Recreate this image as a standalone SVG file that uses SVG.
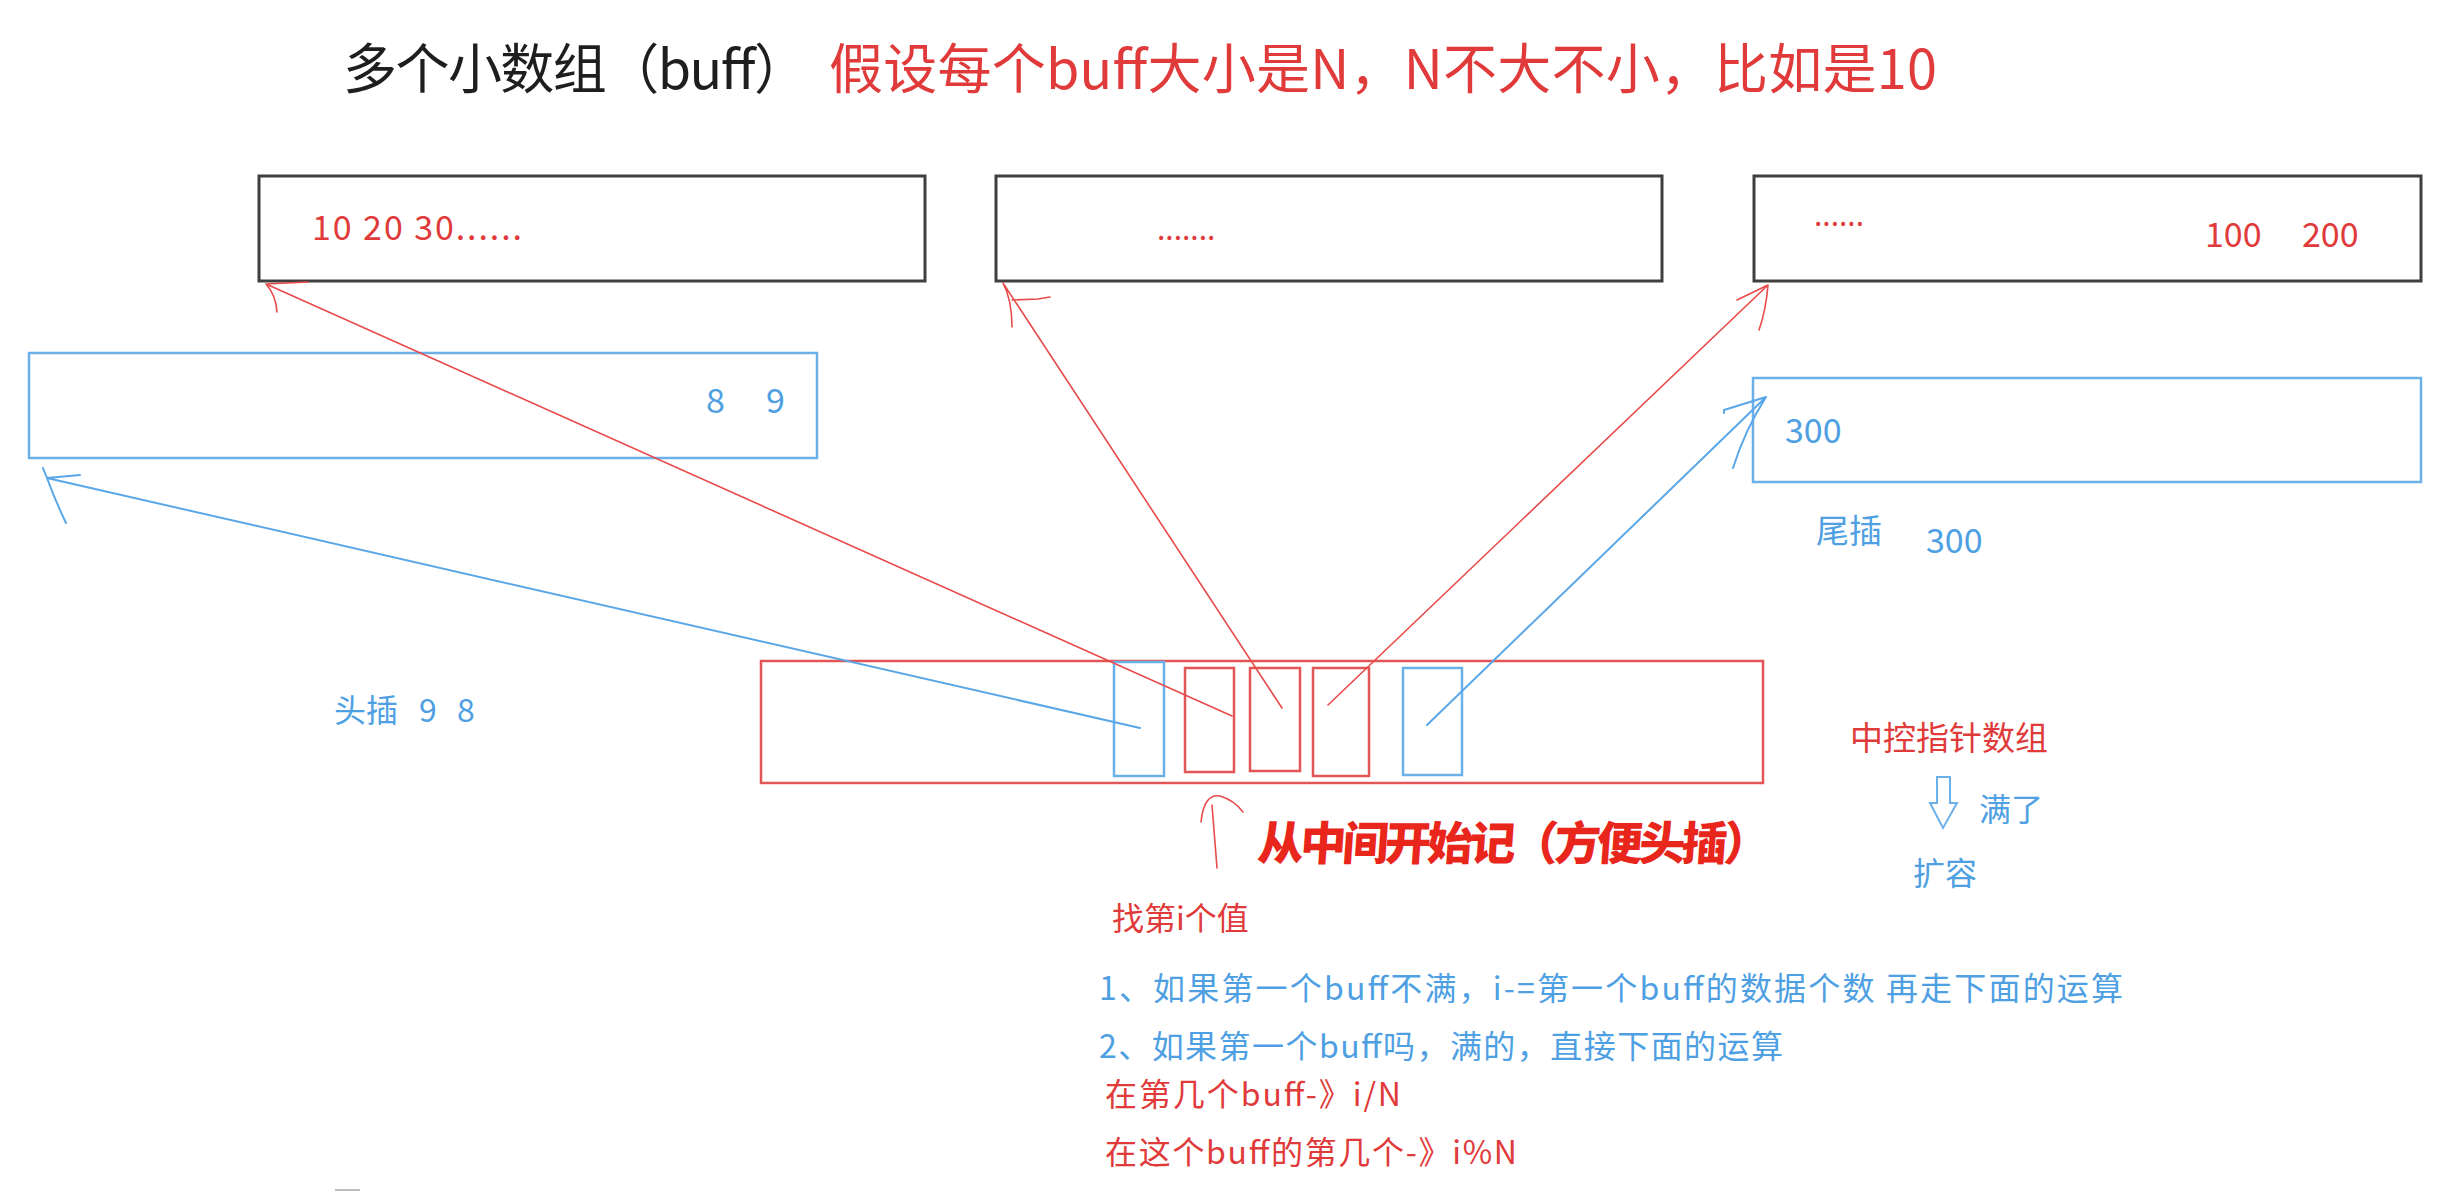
<svg xmlns="http://www.w3.org/2000/svg" width="2440" height="1192" viewBox="0 0 2440 1192">
<style>
text{font-family:"Noto Sans CJK SC","Microsoft YaHei","Noto Sans",sans-serif}
.red{fill:#e03a3a}
.blue{fill:#4f9fe3}
.bk{fill:#1e1e1e}
.box{fill:none;stroke:#3f3f3f;stroke-width:3}
.bbox{fill:none;stroke:#6cb0ea;stroke-width:2.5}
.rbox{fill:none;stroke:#e25555;stroke-width:2.5}
.rl{fill:none;stroke:#e84a4a;stroke-width:1.6;stroke-linecap:round;stroke-linejoin:round}
.bl{fill:none;stroke:#5aa7e8;stroke-width:2;stroke-linecap:round;stroke-linejoin:round}
</style>
<rect width="2440" height="1192" fill="#ffffff"/>

<g id="title">
<text x="343" y="89" font-size="54" class="bk" textLength="465">多个小数组（buff）</text>
<text x="829" y="89" font-size="54" class="red" textLength="1108">假设每个buff大小是N，N不大不小，比如是10</text>
</g>

<g id="buffA">
<rect class="box" x="259" y="176" width="666" height="105"/>
<text x="312" y="240" font-size="34" class="red" textLength="210">10  20  30......</text>
</g>
<g id="buffB">
<rect class="box" x="996" y="176" width="666" height="105"/>
<text x="1157" y="240" font-size="30" class="red">.......</text>
</g>
<g id="buffC">
<rect class="box" x="1754" y="176" width="667" height="105"/>
<text x="1814" y="226" font-size="30" class="red">......</text>
<text x="2205" y="247" font-size="34" class="red">100</text>
<text x="2302" y="247" font-size="34" class="red">200</text>
</g>
<g id="buffHead">
<rect class="bbox" x="29" y="353" width="788" height="105"/>
<text x="706" y="413" font-size="34" class="blue">8</text>
<text x="766" y="413" font-size="34" class="blue">9</text>
</g>
<g id="buffTail">
<rect class="bbox" x="1753" y="378" width="668" height="104"/>
<text x="1785" y="443" font-size="34" class="blue">300</text>
</g>

<g id="map">
<rect class="rbox" x="761" y="661" width="1002" height="122"/>
<rect class="bbox" x="1114" y="662" width="50" height="114"/>
<rect class="rbox" x="1185" y="668" width="49" height="104"/>
<rect class="rbox" x="1250" y="668" width="50" height="103"/>
<rect class="rbox" x="1313" y="668" width="56" height="108"/>
<rect class="bbox" x="1403" y="668" width="59" height="107"/>
</g>

<g id="connectors">
<path class="bl" d="M1140,728 L47,478 M43,468 L47,478 L80,475 M47,478 Q55,500 66,523"/>
<path class="rl" d="M1232,716 L266,284 M266,284 L308,282 M266,284 Q276,295 277,312"/>
<path class="rl" d="M1282,708 L1003,283 M1003,283 Q1012,300 1012,327 M1012,300 L1038,299 L1050,297"/>
<path class="rl" d="M1328,705 L1768,285 M1768,285 L1737,300 M1768,285 Q1766,310 1759,330"/>
<path class="bl" d="M1427,725 L1766,397 M1766,397 L1724,410 L1724,413 M1766,397 Q1745,430 1733,468"/>
<path class="rl" d="M1217,868 L1212,805 M1201,822 Q1204,793 1220,796 Q1234,800 1243,812"/>
</g>

<g id="labels">
<text x="334" y="722" font-size="32" class="blue">头插</text>
<text x="419" y="722" font-size="32" class="blue">9</text>
<text x="457" y="722" font-size="32" class="blue">8</text>
<text x="1816" y="543" font-size="33" class="blue">尾插</text>
<text x="1926" y="553" font-size="34" class="blue">300</text>
<text x="1850" y="750" font-size="33" class="red">中控指针数组</text>
<path d="M1937,777 L1950,777 L1950,803 L1957,803 L1943,828 L1930,803 L1937,803 Z" fill="none" stroke="#6cb0ea" stroke-width="2"/>
<text x="1979" y="821" font-size="32" class="blue">满了</text>
<text x="1913" y="885" font-size="32" class="blue">扩容</text>
<text x="1257" y="860" font-size="46" font-weight="900" fill="#e8261c" textLength="512" transform="skewX(-4) translate(60,0)">从中间开始记（方便头插）</text>
<text x="1112" y="930" font-size="32" class="red">找第i个值</text>
<text x="1099" y="1000" font-size="32" class="blue" textLength="1024">1、如果第一个buff不满，i-=第一个buff的数据个数 再走下面的运算</text>
<text x="1099" y="1058" font-size="32" class="blue" textLength="684">2、如果第一个buff吗，满的，直接下面的运算</text>
<text x="1105" y="1106" font-size="32" class="red" textLength="296">在第几个buff-》i/N</text>
<text x="1105" y="1164" font-size="32" class="red" textLength="412">在这个buff的第几个-》i%N</text>
</g>
<line x1="335" y1="1190" x2="360" y2="1190" stroke="#bbbbbb" stroke-width="2"/>
</svg>
